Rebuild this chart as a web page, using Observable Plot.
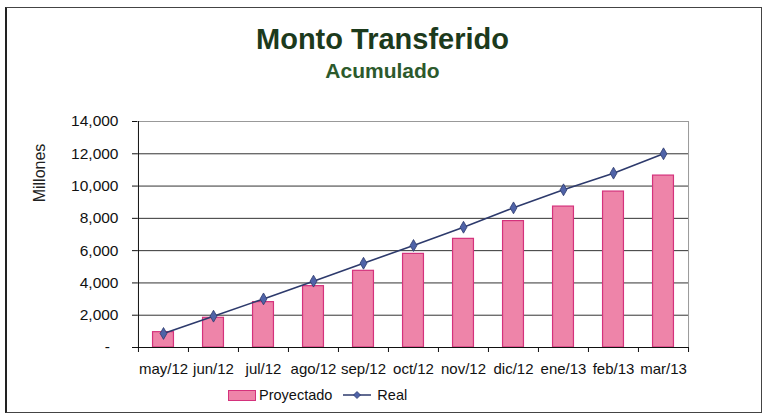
<!DOCTYPE html>
<html>
<head>
<meta charset="utf-8">
<script src="https://cdn.jsdelivr.net/npm/d3@7"></script>
<script src="https://cdn.jsdelivr.net/npm/@observablehq/plot@0.6"></script>
<style>
  html, body { margin: 0; padding: 0; background: #fff; }
  #wrap { position: relative; width: 765px; height: 416px; overflow: hidden; background: #fff;
          font-family: "Liberation Sans", Arial, sans-serif; }
  #border { position: absolute; left: 5px; top: 7px; width: 754px; height: 404px;
            border: 1px solid #444; border-left: 2px solid #222; }
  #chart { position: absolute; left: 0; top: 0; }
  .title { position: absolute; left: 0; width: 765px; text-align: center; font-weight: bold; }
  #t1 { top: 23px; font-size: 29px; color: #1c3a1c; }
  #t2 { top: 59px; font-size: 21px; color: #2c5a2c; }
  #ylab { position: absolute; left: 40px; top: 173px; transform: translate(-50%, -50%) rotate(-90deg);
          font-size: 16px; color: #222; white-space: nowrap; }
  #legend { position: absolute; top: 387px; left: 228px; font-size: 14.5px; color: #111; display: flex; align-items: center; }
  .sw { display: inline-block; width: 26px; height: 9px; background: #ee84a9; border: 1px solid #d4327c; margin-right: 3px; }
</style>
</head>
<body>
<div id="wrap">
  <div id="border"></div>
  <div id="chart"></div>
  <div class="title" id="t1">Monto Transferido</div>
  <div class="title" id="t2">Acumulado</div>
  <div id="ylab">Millones</div>
  <div id="legend">
    <span class="sw"></span><span>Proyectado</span>
    <svg width="34" height="12" style="margin-left:9px;margin-right:2px">
      <line x1="2" y1="6" x2="30" y2="6" stroke="#2d3a6c" stroke-width="1.5"></line>
      <path d="M16,2.5 L19.5,6 L16,9.5 L12.5,6 Z" fill="#4f63a8" stroke="#2d3a6c" stroke-width="0.8"></path>
    </svg><span>Real</span>
  </div>
</div>
<script>
const months = ["may/12","jun/12","jul/12","ago/12","sep/12","oct/12","nov/12","dic/12","ene/13","feb/13","mar/13"];
const proyectado = [950, 1840, 2810, 3800, 4750, 5800, 6730, 7830, 8730, 9660, 10650];
const real = [870, 1940, 3010, 4110, 5220, 6320, 7450, 8650, 9770, 10800, 12000];
const yTicks = [0, 2000, 4000, 6000, 8000, 10000, 12000, 14000];

const data = months.map((m, i) => ({month: m, proy: proyectado[i], real: real[i]}));
const fmt = d => d === 0 ? "-\u2007" : d3.format(",")(d);

const W = 765, H = 416, ML = 137, MR = 77, MT = 121, MB = 69;
const bw = (W - ML - MR) / months.length;
const barW = 21;
const inset = (bw - barW) / 2;

const chart = Plot.plot({
  width: W, height: H,
  marginLeft: ML, marginRight: MR, marginTop: MT, marginBottom: MB,
  x: {domain: months, padding: 0, label: null},
  y: {domain: [0, 14000], label: null},
  style: {fontFamily: "'Liberation Sans', Arial, sans-serif", fontSize: "14px", color: "#111", background: "transparent"},
  marks: [
    Plot.ruleY(yTicks.slice(1, -1), {stroke: "#333", strokeWidth: 1}),
    Plot.ruleY([yTicks[yTicks.length - 1]], {stroke: "#999", strokeWidth: 1}),
    Plot.ruleX([months[months.length - 1]], {dx: bw / 2, stroke: "#999", strokeWidth: 1}),
    Plot.barY(data, {x: "month", y: "proy", fill: "#ee84a9", stroke: "#d4327c", strokeWidth: 1.2, insetLeft: inset, insetRight: inset}),
    Plot.line(data, {x: "month", y: "real", stroke: "#2d3a6c", strokeWidth: 1.6}),
    Plot.dot(data, {x: "month", y: "real", symbol: "diamond", r: 3.6, fill: "#4f63a8", stroke: "#2d3a6c", strokeWidth: 0.8}),
    Plot.ruleX([months[0]], {dx: -bw / 2, stroke: "#111", strokeWidth: 1}),
    Plot.ruleY([0], {stroke: "#111", strokeWidth: 1}),
    Plot.ruleX(months, {dx: -bw / 2, y1: 0, y2: 0, insetBottom: -5, stroke: "#111"}),
    Plot.ruleX([months[months.length - 1]], {dx: bw / 2, y1: 0, y2: 0, insetBottom: -5, stroke: "#111"}),
    Plot.axisY({ticks: yTicks, tickFormat: fmt, tickSize: 5, tickPadding: 14, fontSize: 15.5}),
    Plot.axisX({tickSize: 0, tickPadding: 16, fontSize: 15})
  ]
});
document.getElementById("chart").appendChild(chart);
</script>
</body>
</html>
